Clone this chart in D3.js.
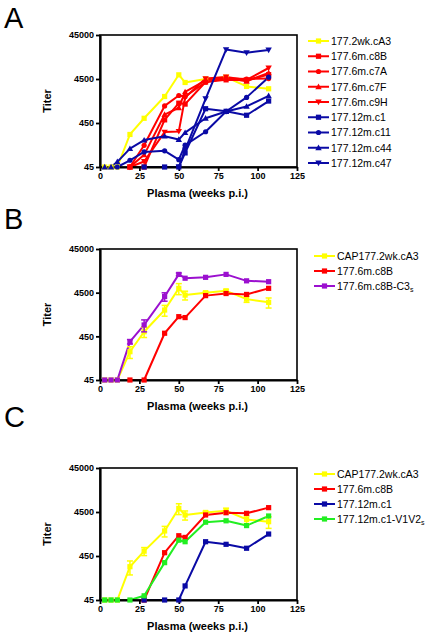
<!DOCTYPE html>
<html><head><meta charset="utf-8">
<script src="https://cdn.jsdelivr.net/npm/d3@7"></script>
<style>
html,body{margin:0;padding:0;background:#fff;}
text{font-family:Arial,"Liberation Sans",Helvetica,sans-serif;}
</style></head>
<body><svg id="c" width="430" height="635"></svg>
<script>
// ---------- data ----------
const weeks = [3, 7, 11, 19, 28, 41, 50, 54, 67, 80, 93, 107];
const xTicks = [0, 25, 50, 75, 100, 125];
const yTicks = [45, 450, 4500, 45000];

// Panel A
const a_cA3 = [45, 45, 45, 247, 576, 1800, 5600, 3750, 4500, 4950, 3050, 2700];
const a_c8B = [null, null, null, 45, 45, 530, 1270, 1210, 3850, 4300, 4200, 5650];
const a_c7A = [null, null, null, 45, 140, 1100, 1900, 1800, 3800, 4700, 4500, 4600];
const a_c7F = [null, null, null, 45, 85, 700, 1000, 2300, 4200, 4800, 4000, 6200];
const a_c9H = [null, null, null, 45, 60, 280, 290, 1700, 4600, 5000, 4300, 8000];
const a_c1  = [null, null, null, null, 45, 45, 45, 94, 950, 830, 675, 1420];
const a_c11 = [null, null, 45, 64, 99, 105, 66, 141, 285, 820, 1720, 4950];
const a_c44 = [45, 45, 59, 118, 184, 226, 190, 272, 576, 820, 1070, 1870];
const a_c47 = [null, null, null, null, null, null, 45, 110, 1600, 21000, 17800, 20500];
const a_names = ["177.2wk.cA3", "177.6m.c8B", "177.6m.c7A", "177.6m.c7F", "177.6m.c9H",
                 "177.12m.c1", "177.12m.c11", "177.12m.c44", "177.12m.c47"];

// Panel B
const b_cA3   = [45, 45, 45, 200, 573, 1800, 5650, 3960, 4500, 4950, 3200, 2700];
const b_c8B   = [null, null, null, 45, 45, 530, 1270, 1210, 3850, 4300, 4100, 5650];
const b_c8BC3 = [45, 45, 45, 340, 820, 3670, 11800, 9640, 10100, 11800, 8400, 8030];
const b_cA3_err   = [0, 0, 0, 60, 150, 500, 1600, 900, 300, 400, 500, 700];
const b_c8BC3_err = [0, 0, 0, 40, 250, 800, 900, 0, 0, 0, 0, 0];
const b_names = ["CAP177.2wk.cA3", "177.6m.c8B", "177.6m.c8B-C3"];

// Panel C
const c_cA3  = [45, 45, 45, 257, 580, 1670, 5430, 3850, 4400, 4800, 3050, 2710];
const c_c8B  = [null, null, null, null, 45, 535, 1300, 1190, 3850, 4330, 4200, 5650];
const c_c1   = [null, null, null, null, 45, 45, 45, 94, 950, 830, 675, 1420];
const c_V1V2 = [45, 45, 45, 45, 56, 318, 1030, 950, 2640, 2840, 2210, 3650];
const c_cA3_err = [0, 0, 0, 90, 120, 450, 1500, 900, 300, 700, 600, 800];
const c_names = ["CAP177.2wk.cA3", "177.6m.c8B", "177.12m.c1", "177.12m.c1-V1V2"];

// ---------- styling ----------
const YEL = "#FFFF00", RED = "#FF0000", BLU = "#0A0AA5", PUR = "#9B10CF", GRN = "#22EE22";

const svg = d3.select("#c");
const X0 = 100, X1 = 297;

function marker(g, shape, cx, cy, color) {
  const s = 2.6;
  if (shape === "square") {
    g.append("rect").attr("x", cx - s).attr("y", cy - s).attr("width", 2 * s).attr("height", 2 * s).attr("fill", color);
  } else if (shape === "circle") {
    g.append("circle").attr("cx", cx).attr("cy", cy).attr("r", 2.6).attr("fill", color);
  } else if (shape === "tri") {
    g.append("path").attr("d", `M${cx},${cy - 3.2}L${cx + 3.2},${cy + 2.4}L${cx - 3.2},${cy + 2.4}Z`).attr("fill", color);
  } else if (shape === "tridown") {
    g.append("path").attr("d", `M${cx},${cy + 3.2}L${cx + 3.2},${cy - 2.4}L${cx - 3.2},${cy - 2.4}Z`).attr("fill", color);
  }
}

function panel(cfg) {
  const { top, bottom, letter, letterY, series, legend } = cfg;
  const x = d3.scaleLinear().domain([0, 125]).range([X0, X1]);
  const y = d3.scaleLog().domain([45, 45000]).range([bottom, top]);
  const g = svg.append("g");

  svg.append("text").attr("x", 4).attr("y", letterY).attr("font-size", 29).text(letter);

  // lines
  series.forEach(s => {
    const pts = weeks.map((w, i) => ({ w, v: s.values[i], e: s.err ? s.err[i] : 0 })).filter(d => d.v != null);
    const line = d3.line().x(d => x(d.w)).y(d => y(d.v));
    g.append("path").datum(pts).attr("d", line).attr("fill", "none")
      .attr("stroke", s.color).attr("stroke-width", 2).attr("stroke-linejoin", "round");
    s._pts = pts;
  });

  // frame
  g.append("rect").attr("x", X0).attr("y", top).attr("width", X1 - X0).attr("height", bottom - top)
    .attr("fill", "none").attr("stroke", "#000").attr("stroke-width", 1.6);

  // axes
  const xa = g.append("g").attr("transform", `translate(0,${bottom})`)
    .call(d3.axisBottom(x).tickValues(xTicks).tickSize(4).tickSizeOuter(0).tickPadding(2));
  const ya = g.append("g").attr("transform", `translate(${X0},0)`)
    .call(d3.axisLeft(y).tickValues(yTicks).tickFormat(d3.format("d")).tickSize(4).tickSizeOuter(0).tickPadding(2));
  [xa, ya].forEach(a => {
    a.select(".domain").attr("stroke-width", 2.2);
    a.selectAll(".tick line").attr("stroke-width", 1.8);
    a.selectAll(".tick text").attr("font-size", 9).attr("font-weight", "bold").attr("fill", "#000")
      .attr("font-family", "Arial, 'Liberation Sans', sans-serif");
  });

  // markers + error bars
  series.forEach(s => {
    const mg = g.append("g");
    s._pts.forEach(d => {
      if (d.e) {
        const cx = x(d.w);
        const y1 = y(d.v + d.e), y2 = y(Math.max(46, d.v - d.e));
        mg.append("line").attr("x1", cx).attr("x2", cx).attr("y1", y1).attr("y2", y2).attr("stroke", s.color).attr("stroke-width", 1.5);
        [y1, y2].forEach(yy => mg.append("line").attr("x1", cx - 3).attr("x2", cx + 3).attr("y1", yy).attr("y2", yy)
          .attr("stroke", s.color).attr("stroke-width", 1.5));
      }
      marker(mg, s.shape, x(d.w), y(d.v), s.color);
    });
  });

  // axis titles
  svg.append("text").attr("x", (X0 + X1) / 2 - 1).attr("y", bottom + 30).attr("text-anchor", "middle")
    .attr("font-size", 11).attr("font-weight", "bold").text("Plasma (weeks p.i.)");
  svg.append("text").attr("transform", `translate(51,${(top + bottom) / 2}) rotate(-90)`)
    .attr("text-anchor", "middle").attr("font-size", 11).attr("font-weight", "bold").text("Titer");

  // legend
  series.forEach((s, i) => {
    const ly = legend.y0 + i * legend.dy;
    const lg = svg.append("g");
    lg.append("line").attr("x1", legend.x).attr("x2", legend.x + 21).attr("y1", ly).attr("y2", ly)
      .attr("stroke", s.color).attr("stroke-width", 2);
    marker(lg, s.shape, legend.x + 10.5, ly, s.color);
    const t = lg.append("text").attr("x", legend.x + 23).attr("y", ly + 3.8).attr("font-size", 10.5).text(s.name);
    if (s.sub) t.append("tspan").attr("font-size", 7).attr("dy", 2).text(s.sub);
  });
}

panel({
  top: 35, bottom: 167, letter: "A", letterY: 28,
  legend: { x: 308, y0: 41, dy: 15.25 },
  series: [
    { name: a_names[0], values: a_cA3, color: YEL, shape: "square" },
    { name: a_names[1], values: a_c8B, color: RED, shape: "square" },
    { name: a_names[2], values: a_c7A, color: RED, shape: "circle" },
    { name: a_names[3], values: a_c7F, color: RED, shape: "tri" },
    { name: a_names[4], values: a_c9H, color: RED, shape: "tridown" },
    { name: a_names[5], values: a_c1, color: BLU, shape: "square" },
    { name: a_names[6], values: a_c11, color: BLU, shape: "circle" },
    { name: a_names[7], values: a_c44, color: BLU, shape: "tri" },
    { name: a_names[8], values: a_c47, color: BLU, shape: "tridown" }
  ]
});

panel({
  top: 249, bottom: 380, letter: "B", letterY: 229,
  legend: { x: 314, y0: 256, dy: 15 },
  series: [
    { name: b_names[0], values: b_cA3, err: b_cA3_err, color: YEL, shape: "square" },
    { name: b_names[1], values: b_c8B, color: RED, shape: "square" },
    { name: b_names[2], values: b_c8BC3, err: b_c8BC3_err, color: PUR, shape: "square", sub: "s" }
  ]
});

panel({
  top: 468, bottom: 600, letter: "C", letterY: 427,
  legend: { x: 314, y0: 474, dy: 15 },
  series: [
    { name: c_names[0], values: c_cA3, err: c_cA3_err, color: YEL, shape: "square" },
    { name: c_names[1], values: c_c8B, color: RED, shape: "square" },
    { name: c_names[2], values: c_c1, color: BLU, shape: "square" },
    { name: c_names[3], values: c_V1V2, color: GRN, shape: "square", sub: "s" }
  ]
});
</script></body></html>
